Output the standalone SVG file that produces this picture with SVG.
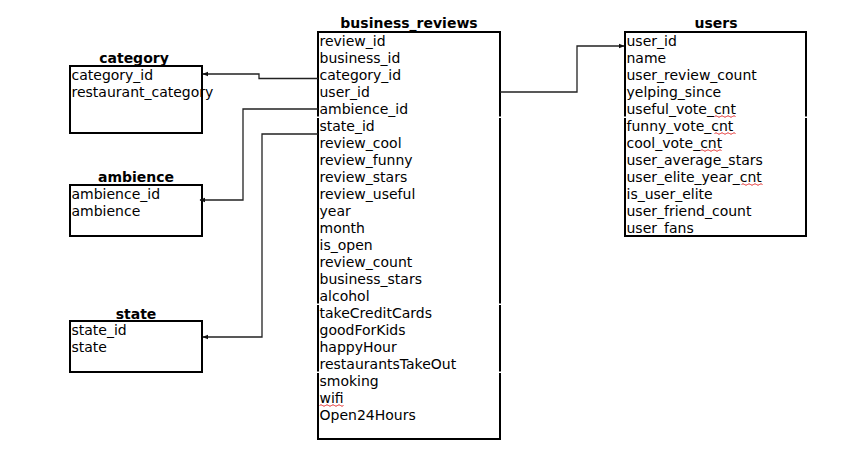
<svg xmlns="http://www.w3.org/2000/svg" width="862" height="449" viewBox="0 0 862 449">
<defs>
<style>
.box{fill:#fff;stroke:#000;stroke-width:2}
.t{font-family:"DejaVu Sans",sans-serif;font-size:14px;fill:#000}
.h{font-family:"DejaVu Sans",sans-serif;font-size:14px;font-weight:bold;fill:#000;text-anchor:middle}
.c{fill:none;stroke:#222;stroke-width:1.3}
.gap{fill:#fff}
.sq{fill:none;stroke:#e02020;stroke-width:0.9}
</style>
<marker id="arr" viewBox="0 0 10 10" refX="9" refY="5" markerWidth="6" markerHeight="6" markerUnits="userSpaceOnUse" orient="auto">
<path d="M0,1 L10,5 L0,9 z" fill="#111"/>
</marker>
</defs>
<rect width="862" height="449" fill="#fff"/>

<g id="business_reviews">
<text class="h" x="409" y="28">business_reviews</text>
<rect class="box" x="318" y="32" width="182" height="407"/>
<rect class="gap" x="316" y="116.5" width="4" height="1.5"/>
<rect class="gap" x="498" y="116.5" width="4" height="1.5"/>
<rect class="gap" x="316" y="303.5" width="4" height="1.5"/>
<rect class="gap" x="498" y="303.5" width="4" height="1.5"/>
<rect class="gap" x="316" y="371.5" width="4" height="1.5"/>
<rect class="gap" x="498" y="371.5" width="4" height="1.5"/>
<text class="t" x="319.5" y="46">review_id</text>
<text class="t" x="319.5" y="63">business_id</text>
<text class="t" x="319.5" y="80">category_id</text>
<text class="t" x="319.5" y="97">user_id</text>
<text class="t" x="319.5" y="114">ambience_id</text>
<text class="t" x="319.5" y="131">state_id</text>
<text class="t" x="319.5" y="148">review_cool</text>
<text class="t" x="319.5" y="165">review_funny</text>
<text class="t" x="319.5" y="182">review_stars</text>
<text class="t" x="319.5" y="199">review_useful</text>
<text class="t" x="319.5" y="216">year</text>
<text class="t" x="319.5" y="233">month</text>
<text class="t" x="319.5" y="250">is_open</text>
<text class="t" x="319.5" y="267">review_count</text>
<text class="t" x="319.5" y="284">business_stars</text>
<text class="t" x="319.5" y="301">alcohol</text>
<text class="t" x="319.5" y="318">takeCreditCards</text>
<text class="t" x="319.5" y="335">goodForKids</text>
<text class="t" x="319.5" y="352">happyHour</text>
<text class="t" x="319.5" y="369">restaurantsTakeOut</text>
<text class="t" x="319.5" y="386">smoking</text>
<text class="t" x="319.5" y="403">wifi</text>
<text class="t" x="319.5" y="420">Open24Hours</text>
<path class="sq" d="M319.5,405.5 q1.5,-1.5 3,0 t3,0 t3,0 t3,0 t3,0 t3,0 t3,0 t3,0"/>
</g>

<g id="users">
<text class="h" x="716" y="28">users</text>
<rect class="box" x="625" y="32" width="181" height="204"/>
<rect class="gap" x="623" y="116.5" width="4" height="1.5"/>
<rect class="gap" x="804" y="116.5" width="4" height="1.5"/>
<text class="t" x="626.5" y="46">user_id</text>
<text class="t" x="626.5" y="63">name</text>
<text class="t" x="626.5" y="80">user_review_count</text>
<text class="t" x="626.5" y="97">yelping_since</text>
<text class="t" x="626.5" y="114">useful_vote_cnt</text>
<text class="t" x="626.5" y="131">funny_vote_cnt</text>
<text class="t" x="626.5" y="148">cool_vote_cnt</text>
<text class="t" x="626.5" y="165">user_average_stars</text>
<text class="t" x="626.5" y="182">user_elite_year_cnt</text>
<text class="t" x="626.5" y="199">is_user_elite</text>
<text class="t" x="626.5" y="216">user_friend_count</text>
<text class="t" x="626.5" y="233">user_fans</text>
<path class="sq" d="M714.5,116.5 q1.5,-1.5 3,0 t3,0 t3,0 t3,0 t3,0 t3,0 t3,0"/>
<path class="sq" d="M714.5,133.5 q1.5,-1.5 3,0 t3,0 t3,0 t3,0 t3,0 t3,0 t3,0"/>
<path class="sq" d="M700.5,150.5 q1.5,-1.5 3,0 t3,0 t3,0 t3,0 t3,0 t3,0 t3,0"/>
<path class="sq" d="M741.5,184.5 q1.5,-1.5 3,0 t3,0 t3,0 t3,0 t3,0 t3,0 t3,0"/>
</g>

<g id="category">
<text class="h" x="134" y="63">category</text>
<rect class="box" x="70" y="66" width="132" height="67"/>
<text class="t" x="71.5" y="80">category_id</text>
<text class="t" x="71.5" y="97">restaurant_category</text>
</g>

<g id="ambience">
<text class="h" x="136" y="182">ambience</text>
<rect class="box" x="70" y="185" width="132" height="51"/>
<text class="t" x="71.5" y="199">ambience_id</text>
<text class="t" x="71.5" y="216">ambience</text>
</g>

<g id="state">
<text class="h" x="136" y="319">state</text>
<rect class="box" x="70" y="321" width="132" height="51"/>
<text class="t" x="71.5" y="335">state_id</text>
<text class="t" x="71.5" y="352">state</text>
</g>

<g id="connectors">
<path class="c" d="M318,78.5 H259 V74 H203" marker-end="url(#arr)"/>
<path class="c" d="M500,92 H577 V46 H624" marker-end="url(#arr)"/>
<path class="c" d="M318,109 H243 V200 H200" marker-end="url(#arr)"/>
<path class="c" d="M318,134 H262 V337 H203" marker-end="url(#arr)"/>
</g>
</svg>
